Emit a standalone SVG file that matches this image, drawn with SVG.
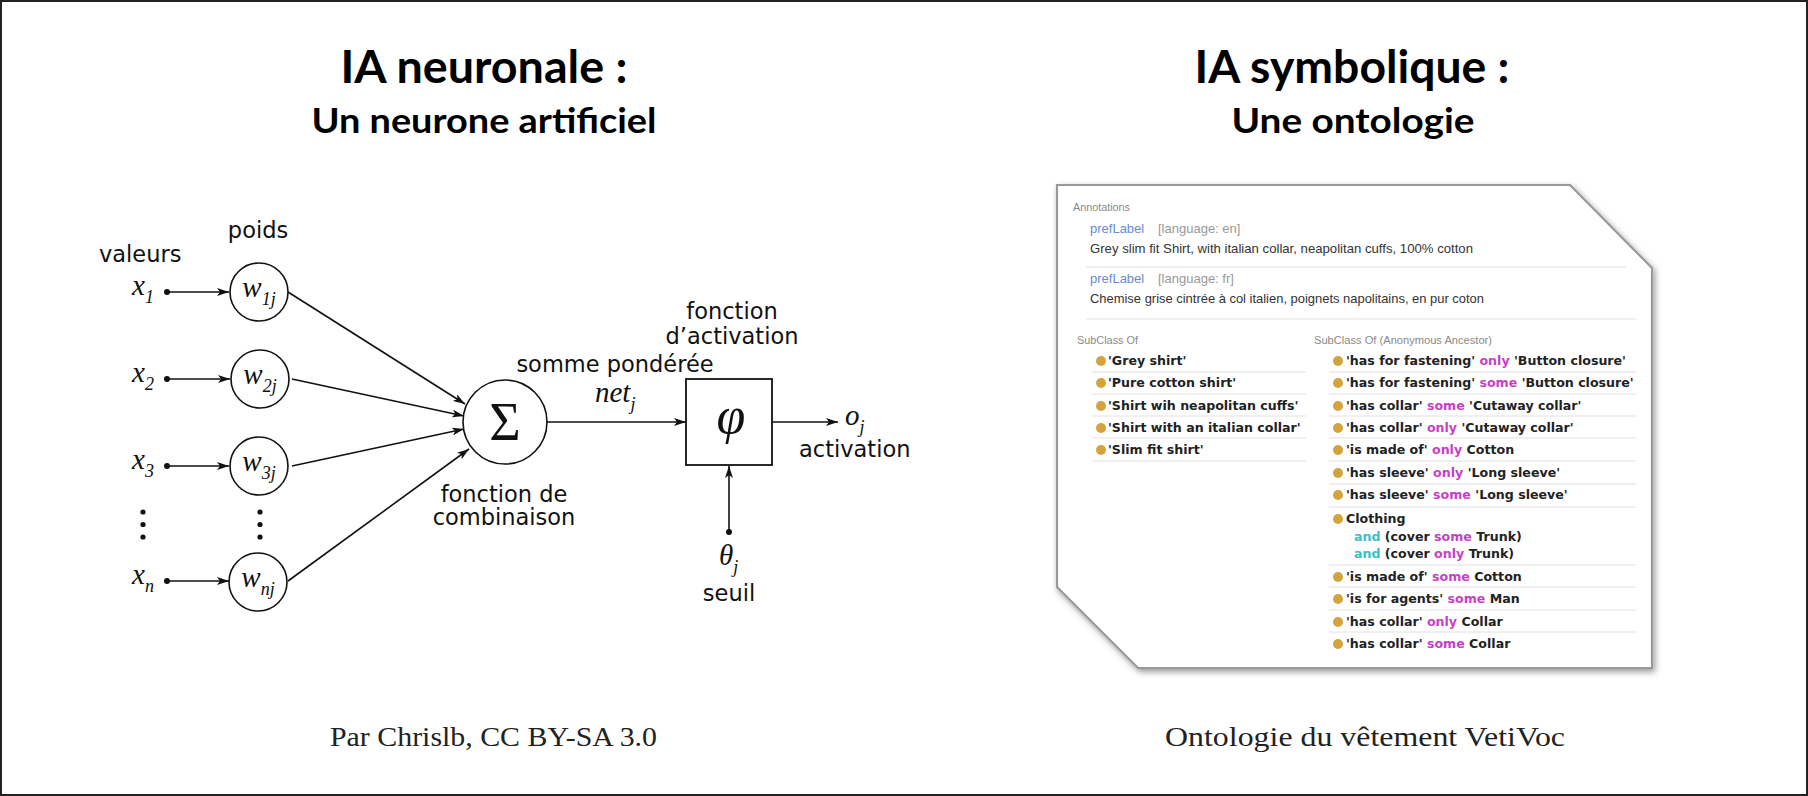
<svg xmlns="http://www.w3.org/2000/svg" width="1808" height="796" viewBox="0 0 1808 796">
<defs>
<marker id="arr" markerUnits="userSpaceOnUse" viewBox="0 0 12 8" refX="12" refY="4" markerWidth="12" markerHeight="8" orient="auto">
<path d="M0,0 L12,4 L0,8 L3,4 z" fill="#111"/>
</marker>
<filter id="sh" x="-5%" y="-5%" width="112%" height="112%">
<feDropShadow dx="2" dy="3" stdDeviation="3" flood-color="#000" flood-opacity="0.4"/>
</filter>
</defs>
<style>
.t{font-family:"Lato","Open Sans",sans-serif;font-weight:700;fill:#000;text-anchor:middle}
.lab{font-family:"DejaVu Sans",sans-serif;font-size:22.5px;fill:#111}
.m{font-family:"Liberation Serif",serif;font-style:italic;font-size:29px;fill:#111}
.sub{font-size:18px}
.ln{stroke:#111;stroke-width:1.6;fill:none}
.cir{stroke:#111;stroke-width:1.6;fill:#fff}
.foot{font-family:"Liberation Serif",serif;font-size:27px;fill:#222}
.sm{font-family:"Liberation Sans",sans-serif;font-size:10px;fill:#8a8a8a}
.pl{font-family:"Liberation Sans",sans-serif;font-size:13px;fill:#6a8ad8}
.lg{font-family:"Liberation Sans",sans-serif;font-size:13px;fill:#999}
.an{font-family:"Liberation Sans",sans-serif;font-size:13px;fill:#333}
.row{font-family:"DejaVu Sans",sans-serif;font-weight:700;font-size:12.6px;fill:#222}
.k{fill:#c63fc6}
.a{fill:#3dbfc9}
.sep{stroke:#e2e2e2;stroke-width:1.2}
.b{fill:#d3a33e}
</style>
<rect x="1" y="1" width="1806" height="794" fill="#fff" stroke="#222" stroke-width="2"/>

<g id="titles">
<text class="t" x="484" y="83" font-size="46" textLength="287" lengthAdjust="spacingAndGlyphs">IA neuronale :</text>
<text class="t" x="484" y="133" font-size="35" textLength="345" lengthAdjust="spacingAndGlyphs">Un neurone artificiel</text>
<text class="t" x="1352" y="83" font-size="46" textLength="315" lengthAdjust="spacingAndGlyphs">IA symbolique :</text>
<text class="t" x="1353" y="133" font-size="35" textLength="243" lengthAdjust="spacingAndGlyphs">Une ontologie</text>
</g>

<g id="connectors">
<line class="ln" x1="167" y1="292" x2="229" y2="292" marker-end="url(#arr)"/>
<line class="ln" x1="167" y1="379" x2="230" y2="379" marker-end="url(#arr)"/>
<line class="ln" x1="167" y1="466" x2="229" y2="466" marker-end="url(#arr)"/>
<line class="ln" x1="167" y1="581" x2="229" y2="581" marker-end="url(#arr)"/>
<line class="ln" x1="288" y1="292" x2="465" y2="404" marker-end="url(#arr)"/>
<line class="ln" x1="292" y1="379" x2="464" y2="416" marker-end="url(#arr)"/>
<line class="ln" x1="292" y1="466" x2="464" y2="429" marker-end="url(#arr)"/>
<line class="ln" x1="288" y1="581" x2="469" y2="449" marker-end="url(#arr)"/>
<line class="ln" x1="547" y1="422" x2="686" y2="422" marker-end="url(#arr)"/>
<line class="ln" x1="772" y1="422" x2="838" y2="422" marker-end="url(#arr)"/>
<line class="ln" x1="729" y1="532" x2="729" y2="466" marker-end="url(#arr)"/>
<circle cx="167" cy="292" r="3" fill="#111"/>
<circle cx="167" cy="379" r="3" fill="#111"/>
<circle cx="167" cy="466" r="3" fill="#111"/>
<circle cx="167" cy="581" r="3" fill="#111"/>
<circle cx="729" cy="532" r="3" fill="#111"/>
</g>

<g id="inputs">
<text class="lab" x="99" y="262">valeurs</text>
<text class="m" x="132" y="295">x<tspan class="sub" dy="8">1</tspan></text>
<text class="m" x="132" y="382">x<tspan class="sub" dy="8">2</tspan></text>
<text class="m" x="132" y="469">x<tspan class="sub" dy="8">3</tspan></text>
<text class="m" x="132" y="584">x<tspan class="sub" dy="8">n</tspan></text>
<circle cx="143" cy="512" r="2.6" fill="#111"/>
<circle cx="143" cy="524.5" r="2.6" fill="#111"/>
<circle cx="143" cy="537" r="2.6" fill="#111"/>
</g>

<g id="weights">
<text class="lab" x="258" y="238" text-anchor="middle">poids</text>
<g id="w1"><circle class="cir" cx="259" cy="292" r="29"/><text class="m" x="259" y="297" text-anchor="middle">w<tspan class="sub" dy="8">1j</tspan></text></g>
<g id="w2"><circle class="cir" cx="260" cy="379" r="29"/><text class="m" x="260" y="384" text-anchor="middle">w<tspan class="sub" dy="8">2j</tspan></text></g>
<g id="w3"><circle class="cir" cx="259" cy="466" r="29"/><text class="m" x="259" y="471" text-anchor="middle">w<tspan class="sub" dy="8">3j</tspan></text></g>
<g id="wn"><circle class="cir" cx="258" cy="582" r="29"/><text class="m" x="258" y="587" text-anchor="middle">w<tspan class="sub" dy="8">nj</tspan></text></g>
<circle cx="260" cy="512" r="2.6" fill="#111"/>
<circle cx="260" cy="524.5" r="2.6" fill="#111"/>
<circle cx="260" cy="537" r="2.6" fill="#111"/>
</g>

<g id="sigma">
<circle class="cir" cx="505" cy="422" r="42"/>
<text x="505" y="440" font-family="Liberation Serif, serif" font-size="54" text-anchor="middle" fill="#111">Σ</text>
<text class="lab" x="504" y="502" text-anchor="middle">fonction de</text>
<text class="lab" x="504" y="525" text-anchor="middle">combinaison</text>
<text class="lab" x="615" y="372" text-anchor="middle">somme pondérée</text>
<text class="m" x="595" y="402">net<tspan class="sub" dy="8">j</tspan></text>
</g>

<g id="phi">
<rect x="686" y="379" width="86" height="86" fill="#fff" stroke="#111" stroke-width="1.8"/>
<text x="731" y="433" font-family="Liberation Serif, serif" font-style="italic" font-size="52" text-anchor="middle" fill="#111">φ</text>
<text class="lab" x="732" y="319" text-anchor="middle">fonction</text>
<text class="lab" x="732" y="344" text-anchor="middle">d’activation</text>
</g>

<g id="output">
<text class="m" x="845" y="425">o<tspan class="sub" dy="8">j</tspan></text>
<text class="lab" x="799" y="457">activation</text>
</g>

<g id="threshold">
<text class="m" x="719" y="565">θ<tspan class="sub" dy="8">j</tspan></text>
<text class="lab" x="729" y="601" text-anchor="middle">seuil</text>
</g>

<g id="ontology">
<polygon points="1057,185 1570,185 1652,268 1652,668 1138,668 1057,587" fill="#fff" stroke="#999" stroke-width="2.2" filter="url(#sh)"/>
<text class="sm" x="1073" y="211" textLength="57" lengthAdjust="spacingAndGlyphs">Annotations</text>
<text class="pl" x="1090" y="233">prefLabel</text>
<text class="lg" x="1158" y="233">[language: en]</text>
<text class="an" x="1090" y="253" textLength="383" lengthAdjust="spacingAndGlyphs">Grey slim fit Shirt, with italian collar, neapolitan cuffs, 100% cotton</text>
<line class="sep" x1="1086" y1="267" x2="1626" y2="267"/>
<text class="pl" x="1090" y="283">prefLabel</text>
<text class="lg" x="1158" y="283">[language: fr]</text>
<text class="an" x="1090" y="303" textLength="394" lengthAdjust="spacingAndGlyphs">Chemise grise cintrée à col italien, poignets napolitains, en pur coton</text>
<line class="sep" x1="1086" y1="319" x2="1636" y2="319"/>
<text class="sm" x="1077" y="344" textLength="61" lengthAdjust="spacingAndGlyphs">SubClass Of</text>
<text class="sm" x="1314" y="344" textLength="178" lengthAdjust="spacingAndGlyphs">SubClass Of (Anonymous Ancestor)</text>

<g id="left-list">
<circle class="b" cx="1101" cy="361" r="5"/><text class="row" x="1108" y="365">'Grey shirt'</text>
<line class="sep" x1="1092" y1="372" x2="1306" y2="372"/>
<circle class="b" cx="1101" cy="383" r="5"/><text class="row" x="1108" y="387">'Pure cotton shirt'</text>
<line class="sep" x1="1092" y1="394" x2="1306" y2="394"/>
<circle class="b" cx="1101" cy="406" r="5"/><text class="row" x="1108" y="410">'Shirt wih neapolitan cuffs'</text>
<line class="sep" x1="1092" y1="416" x2="1306" y2="416"/>
<circle class="b" cx="1101" cy="428" r="5"/><text class="row" x="1108" y="432">'Shirt with an italian collar'</text>
<line class="sep" x1="1092" y1="438" x2="1306" y2="438"/>
<circle class="b" cx="1101" cy="450" r="5"/><text class="row" x="1108" y="454">'Slim fit shirt'</text>
<line class="sep" x1="1092" y1="461" x2="1306" y2="461"/>
</g>

<g id="right-list">
<circle class="b" cx="1338" cy="361" r="5"/><text class="row" x="1346" y="365">'has for fastening' <tspan class="k">only</tspan> 'Button closure'</text>
<line class="sep" x1="1329" y1="372" x2="1636" y2="372"/>
<circle class="b" cx="1338" cy="383" r="5"/><text class="row" x="1346" y="387">'has for fastening' <tspan class="k">some</tspan> 'Button closure'</text>
<line class="sep" x1="1329" y1="394" x2="1636" y2="394"/>
<circle class="b" cx="1338" cy="406" r="5"/><text class="row" x="1346" y="410">'has collar' <tspan class="k">some</tspan> 'Cutaway collar'</text>
<line class="sep" x1="1329" y1="416" x2="1636" y2="416"/>
<circle class="b" cx="1338" cy="428" r="5"/><text class="row" x="1346" y="432">'has collar' <tspan class="k">only</tspan> 'Cutaway collar'</text>
<line class="sep" x1="1329" y1="438" x2="1636" y2="438"/>
<circle class="b" cx="1338" cy="450" r="5"/><text class="row" x="1346" y="454">'is made of' <tspan class="k">only</tspan> Cotton</text>
<line class="sep" x1="1329" y1="461" x2="1636" y2="461"/>
<circle class="b" cx="1338" cy="473" r="5"/><text class="row" x="1346" y="477">'has sleeve' <tspan class="k">only</tspan> 'Long sleeve'</text>
<line class="sep" x1="1329" y1="484" x2="1636" y2="484"/>
<circle class="b" cx="1338" cy="495" r="5"/><text class="row" x="1346" y="499">'has sleeve' <tspan class="k">some</tspan> 'Long sleeve'</text>
<line class="sep" x1="1329" y1="507" x2="1636" y2="507"/>
<circle class="b" cx="1338" cy="519" r="5"/><text class="row" x="1346" y="523">Clothing</text>
<text class="row" x="1354" y="541"><tspan class="a">and</tspan> (cover <tspan class="k">some</tspan> Trunk)</text>
<text class="row" x="1354" y="558"><tspan class="a">and</tspan> (cover <tspan class="k">only</tspan> Trunk)</text>
<line class="sep" x1="1329" y1="565" x2="1636" y2="565"/>
<circle class="b" cx="1338" cy="577" r="5"/><text class="row" x="1346" y="581">'is made of' <tspan class="k">some</tspan> Cotton</text>
<line class="sep" x1="1329" y1="587" x2="1636" y2="587"/>
<circle class="b" cx="1338" cy="599" r="5"/><text class="row" x="1346" y="603">'is for agents' <tspan class="k">some</tspan> Man</text>
<line class="sep" x1="1329" y1="610" x2="1636" y2="610"/>
<circle class="b" cx="1338" cy="622" r="5"/><text class="row" x="1346" y="626">'has collar' <tspan class="k">only</tspan> Collar</text>
<line class="sep" x1="1329" y1="632" x2="1636" y2="632"/>
<circle class="b" cx="1338" cy="644" r="5"/><text class="row" x="1346" y="648">'has collar' <tspan class="k">some</tspan> Collar</text>
</g>
</g>

<g id="footer">
<text class="foot" x="330" y="746" textLength="327" lengthAdjust="spacingAndGlyphs">Par Chrislb, CC BY-SA 3.0</text>
<text class="foot" x="1165" y="746" textLength="400" lengthAdjust="spacingAndGlyphs">Ontologie du vêtement VetiVoc</text>
</g>
</svg>
